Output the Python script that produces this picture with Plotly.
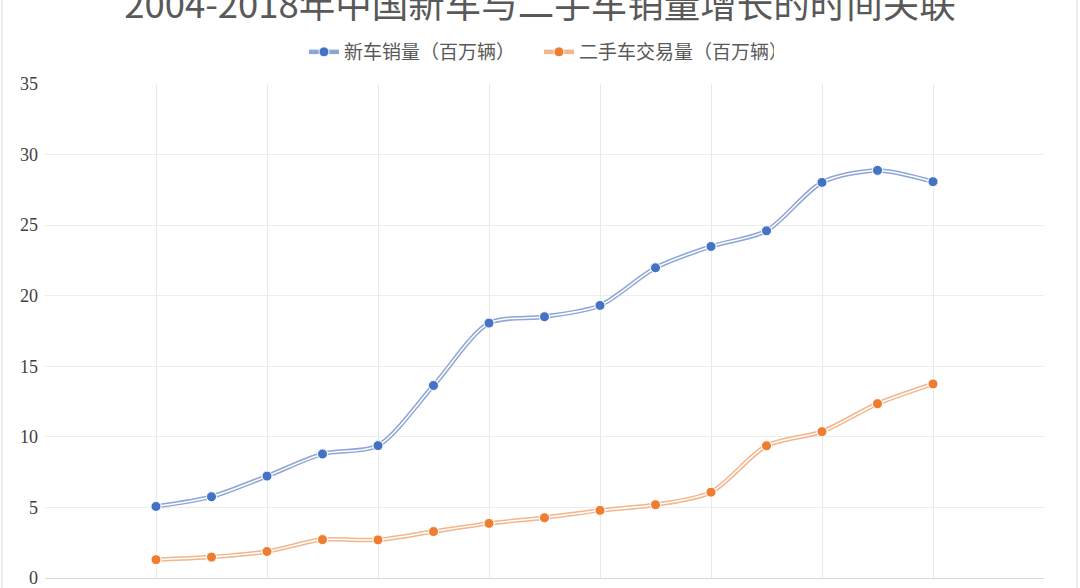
import plotly.graph_objects as go

years = list(range(2004, 2019))
new_car_sales = [5.07, 5.76, 7.22, 8.79, 9.38, 13.64, 18.06, 18.51, 19.31, 21.98, 23.49, 24.60, 28.03, 28.88, 28.08]
used_car_sales = [1.30, 1.48, 1.88, 2.72, 2.70, 3.29, 3.87, 4.27, 4.79, 5.19, 6.08, 9.37, 10.37, 12.35, 13.75]
series_names = ["新车销量（百万辆）", "二手车交易量（百万辆）"]
x_ticks = list(range(2002, 2021, 2))
y_ticks = list(range(0, 36, 5))

marker_colors = ["#4472C4", "#ED7D31"]
line_colors = ["#8DA5D6", "#F2B58C"]

fig = go.Figure()
for name, vals, mc, lc in zip(series_names, [new_car_sales, used_car_sales], marker_colors, line_colors):
    fig.add_trace(go.Scatter(
        x=years, y=vals, name=name, mode="lines+markers",
        line=dict(color=lc, width=4.5, shape="spline", smoothing=0.8),
        marker=dict(color=mc, size=10, line=dict(color="white", width=1)),
        legendgroup=name, showlegend=True, hoverinfo="skip"))
    fig.add_trace(go.Scatter(
        x=years, y=vals, mode="lines",
        line=dict(color="white", width=1.5, shape="spline", smoothing=0.8),
        legendgroup=name, showlegend=False, hoverinfo="skip"))
    fig.add_trace(go.Scatter(
        x=years, y=vals, mode="markers",
        marker=dict(color=mc, size=10, line=dict(color="white", width=1)),
        legendgroup=name, showlegend=False))

plot_w = 1080 - 45 - 36
plot_h = 588 - 84 - 10
border_lines = [
    dict(type="line", xref="paper", yref="paper",
         x0=(2 - 45) / plot_w, x1=(2 - 45) / plot_w, y0=-10 / plot_h, y1=84 / plot_h + 1,
         line=dict(color="#D9D9D9", width=1)),
    dict(type="line", xref="paper", yref="paper",
         x0=(1077 - 45) / plot_w, x1=(1077 - 45) / plot_w, y0=-10 / plot_h, y1=84 / plot_h + 1,
         line=dict(color="#D9D9D9", width=1)),
]

fig.update_layout(
    width=1080, height=588,
    margin=dict(l=45, r=36, t=84, b=10, autoexpand=False),
    paper_bgcolor="white", plot_bgcolor="white",
    font=dict(family="Noto Sans CJK SC", color="#595959"),
    title=dict(text="2004-2018年中国新车与二手车销量增长的时间关联",
               x=0.5, xanchor="center", xref="container",
               y=0.991, yanchor="middle", yref="container",
               font=dict(size=36.5, color="#595959", family="Noto Sans CJK SC")),
    legend=dict(orientation="h", x=0.5 - 6 / 1080, xanchor="center",
                y=1 - 52 / 588, yanchor="middle", yref="container",
                font=dict(size=19, color="#595959", family="Noto Sans CJK SC"),
                itemwidth=30, entrywidth=190, entrywidthmode="pixels",
                tracegroupgap=0),
    showlegend=True,
    shapes=border_lines,
)
fig.update_xaxes(range=[2002, 2020], tickvals=x_ticks, ticktext=[str(v) for v in x_ticks],
                 showgrid=True, gridcolor="#E9E9E9", gridwidth=1,
                 showline=True, linecolor="#D9D9D9", linewidth=1,
                 zeroline=False, ticks="", automargin=False,
                 ticklabeloverflow="allow",
                 tickfont=dict(size=17, family="Liberation Serif", color="#595959"))
fig.update_yaxes(range=[0, 35], tickvals=y_ticks,
                 showgrid=True, gridcolor="#EDEDED", gridwidth=1,
                 showline=False, zeroline=False, ticks="", automargin=False,
                 ticklabelstandoff=6, ticklabeloverflow="allow",
                 tickfont=dict(size=18, family="Liberation Serif", color="#404040"))

fig.write_html("out.html", config={"displayModeBar": False},
               post_script="document.body.style.margin='0';document.body.style.overflow='hidden';")
